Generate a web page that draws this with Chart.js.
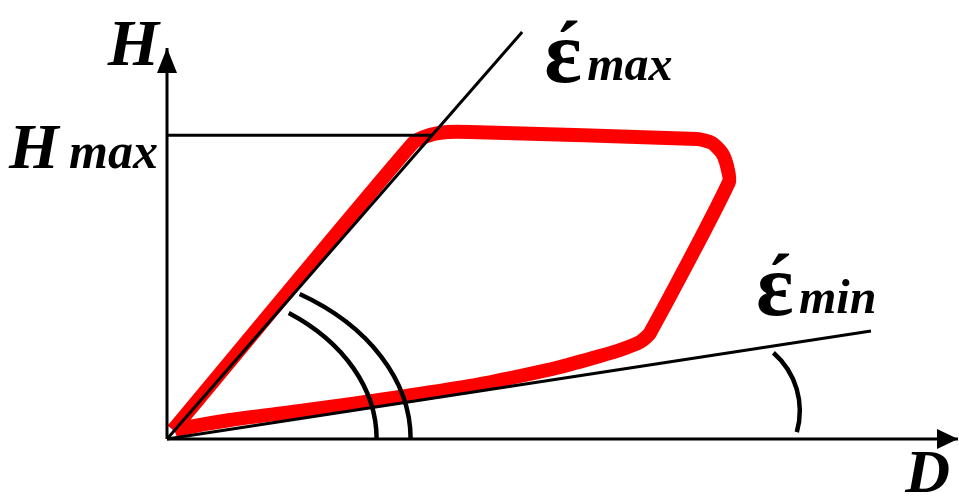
<!DOCTYPE html>
<html>
<head>
<meta charset="utf-8">
<script src="https://cdn.jsdelivr.net/npm/chart.js@4/dist/chart.umd.min.js"></script>
<style>
  html, body { margin: 0; padding: 0; background: #fff; }
  #wrap { width: 959px; height: 496px; }
</style>
</head>
<body>
<div id="wrap"><canvas id="loopChart"></canvas></div>
<script>
// D (x) and H (y) both run 0..100 between the axis origin and the arrow tips
const hMax = 77.7;
const loopD = [0.76, 31.1, 33.25, 35.52, 38.31, 67.0, 68.9, 70.16, 70.8, 71.05, 61.06, 59.8, 57.27, 54.74, 49.68, 44.63, 38.31, 29.46, 16.81, 7.96, 2.28, 1.01];
const loopH = [2.3, 75.7, 77.75, 78.52, 78.52, 76.73, 75.7, 73.15, 69.82, 65.73, 27.11, 24.81, 22.76, 21.23, 18.41, 16.11, 13.55, 10.74, 7.16, 4.86, 2.81, 1.79];
const epsMaxEnd = [44.9, 104.1];
const epsMinEnd = [89.0, 27.6];
const axisLabels = ['H', 'D'];
const levelLabel = ['H', 'max'];
const rateLabels = [['ε', 'max'], ['ε', 'min']];

// angle marks: centre (D, H), radii in D and H units, start/end angle in degrees
const angleArcs = [
  { cx: 0, cy: 0, rx: 30.8, ry: 44.2, from: -57, to: 0 },
  { cx: 0, cy: 0, rx: 26.5, ry: 39.6, from: -54.5, to: 0 },
  { cx: 70.3, cy: 7.2, rx: 9.7, ry: 19.7, from: -49, to: 16 }
];

const pts = (xs, ys) => xs.map((v, i) => ({ x: v, y: ys[i] }));
const serif = '"Liberation Serif", "Times New Roman", serif';

const annotate = {
  id: 'annotate',
  afterDatasetsDraw(chart) {
    const { ctx, scales: { x, y } } = chart;
    const px = v => x.getPixelForValue(v);
    const py = v => y.getPixelForValue(v);
    ctx.save();
    ctx.fillStyle = '#000';
    ctx.strokeStyle = '#000';

    // arrow heads
    ctx.beginPath();
    ctx.moveTo(px(0), py(100));
    ctx.lineTo(px(0) - 10, py(100) + 25);
    ctx.lineTo(px(0) + 10, py(100) + 25);
    ctx.closePath();
    ctx.fill();
    ctx.beginPath();
    ctx.moveTo(px(100), py(0));
    ctx.lineTo(px(100) - 21, py(0) - 10);
    ctx.lineTo(px(100) - 21, py(0) + 10);
    ctx.closePath();
    ctx.fill();

    // angle arcs
    ctx.lineWidth = 4.5;
    angleArcs.forEach(a => {
      ctx.beginPath();
      ctx.ellipse(px(a.cx), py(a.cy), px(a.rx) - px(0), py(0) - py(a.ry), 0,
        a.from * Math.PI / 180, a.to * Math.PI / 180);
      ctx.stroke();
    });

    // labels
    ctx.textBaseline = 'alphabetic';
    ctx.font = 'italic bold 66px ' + serif;
    ctx.textAlign = 'right';
    ctx.fillText(axisLabels[0], px(0) - 8, py(100) + 17);
    ctx.font = 'italic bold 62px ' + serif;
    ctx.fillText(axisLabels[1], px(100) - 8, py(0) + 53);
    ctx.textAlign = 'left';
    ctx.font = 'italic bold 64px ' + serif;
    ctx.fillText(levelLabel[0], px(0) - 158, py(hMax) + 33);
    ctx.textAlign = 'right';
    ctx.font = 'italic bold 50px ' + serif;
    ctx.fillText(levelLabel[1], px(0) - 9, py(hMax) + 33);

    const rateAt = [
      [px(epsMaxEnd[0]) + 23, py(epsMaxEnd[1]) + 50],
      [px(epsMinEnd[0]) - 114, py(epsMinEnd[1]) - 16]
    ];
    ctx.textAlign = 'left';
    rateLabels.forEach((lab, i) => {
      const [lx, ly] = rateAt[i];
      ctx.font = 'bold 88px ' + serif;
      ctx.fillText(lab[0], lx - 1, ly);
      ctx.font = 'bold 76px ' + serif;
      ctx.fillText('\u00B4', lx + 10, ly - 8);
      ctx.font = 'italic bold 48px ' + serif;
      ctx.fillText(lab[1], lx + 42, ly - 2);
    });
    ctx.restore();
  }
};

const black = { borderColor: '#000', borderWidth: 3, pointRadius: 0, showLine: true, clip: false, order: 1 };

new Chart(document.getElementById('loopChart'), {
  type: 'scatter',
  data: {
    datasets: [
      { ...black, data: pts([0, 0], [0, 100]) },
      { ...black, data: pts([0, 100], [0, 0]) },
      { ...black, data: pts([0, 33.6], [hMax, hMax]) },
      { ...black, data: pts([0, epsMaxEnd[0]], [0, epsMaxEnd[1]]) },
      { ...black, data: pts([0, epsMinEnd[0]], [0, epsMinEnd[1]]) },
      {
        data: pts(loopD, loopH),
        showLine: true,
        borderColor: '#ff0000',
        borderWidth: 14,
        borderJoinStyle: 'round',
        tension: 0.2,
        pointRadius: 0,
        clip: false,
        order: 2
      }
    ]
  },
  options: {
    responsive: true,
    maintainAspectRatio: false,
    animation: false,
    layout: { padding: { left: 167, right: 1, top: 48, bottom: 57 } },
    plugins: { legend: { display: false }, tooltip: { enabled: false } },
    scales: {
      x: { type: 'linear', min: 0, max: 100, display: false },
      y: { type: 'linear', min: 0, max: 100, display: false }
    }
  },
  plugins: [annotate]
});
</script>
</body>
</html>
